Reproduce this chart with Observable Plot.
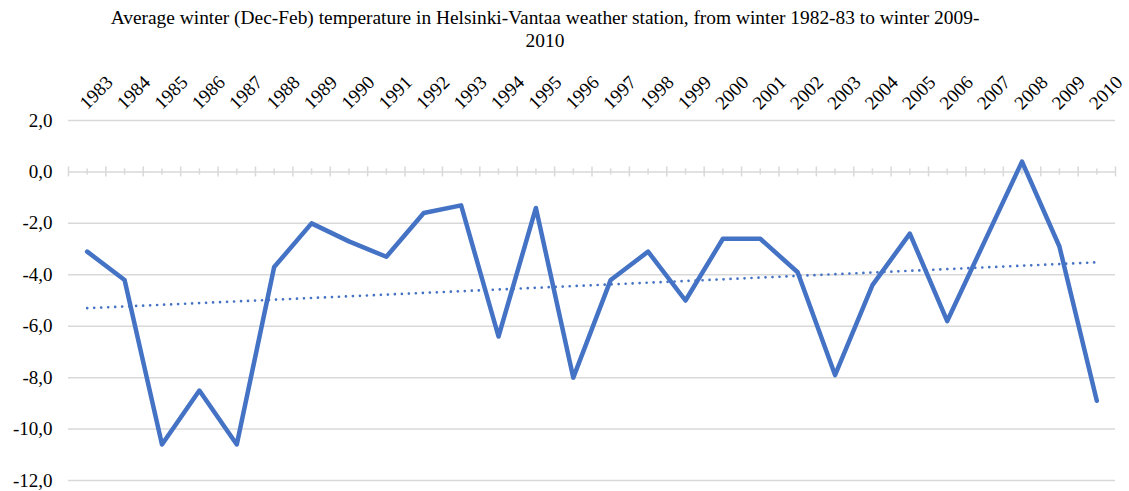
<!DOCTYPE html>
<html>
<head>
<meta charset="utf-8">
<script src="https://cdn.jsdelivr.net/npm/d3@7"></script>
<script src="https://cdn.jsdelivr.net/npm/@observablehq/plot@0.6"></script>
<style>
  html, body { margin: 0; padding: 0; background: #fff; }
  #title {
    width: 1090px;
    text-align: center;
    font-family: "Liberation Serif", "Times New Roman", serif;
    font-size: 19.4px;
    line-height: 23px;
    color: #000;
    padding-top: 6px;
    height: 49px;
  }
  #chart svg { display: block; }
</style>
</head>
<body>
<div id="title">Average winter (Dec-Feb) temperature in Helsinki-Vantaa weather station, from winter 1982-83 to winter 2009-<br>2010</div>
<div id="chart"></div>
<script>
const years = [1983, 1984, 1985, 1986, 1987, 1988, 1989, 1990, 1991, 1992, 1993, 1994, 1995, 1996,
               1997, 1998, 1999, 2000, 2001, 2002, 2003, 2004, 2005, 2006, 2007, 2008, 2009, 2010];
const temps = [-3.1, -4.2, -10.6, -8.5, -10.6, -3.7, -2.0, -2.7, -3.3, -1.6, -1.3, -6.4, -1.4, -8.0,
               -4.2, -3.1, -5.0, -2.6, -2.6, -3.9, -7.9, -4.4, -2.4, -5.8, -2.7, 0.4, -2.9, -8.9];
const yTicks = [2, 0, -2, -4, -6, -8, -10, -12];

const data = years.map((year, i) => ({year, temp: temps[i]}));
const boundaries = [...years.map(y => y - 0.5), years[years.length - 1] + 0.5];

const font = "Liberation Serif, Times New Roman, serif";
const blue = "#4472C4";
const grid = "#d9d9d9";

const chart = Plot.plot({
  width: 1129,
  height: 436,
  marginLeft: 68,
  marginRight: 14,
  marginTop: 65,
  marginBottom: 11,
  style: "font-family: 'Liberation Serif', serif; font-size: 17px; color: #000; background: #fff;",
  x: {type: "linear", domain: [1982.5, 2010.5], axis: null},
  y: {domain: [-12, 2], axis: null},
  marks: [
    Plot.ruleY(yTicks, {stroke: grid, strokeWidth: 1.5}),
    Plot.ruleX(boundaries, {y1: 0, y2: 0, insetTop: -5, insetBottom: -5, stroke: grid, strokeWidth: 1.5}),
    Plot.ruleX(years, {y1: 0, y2: 0, insetTop: -3, insetBottom: -3, stroke: grid, strokeWidth: 1.5}),
    Plot.text(yTicks, {
      y: d => d,
      text: d => d.toFixed(1).replace(".", ","),
      frameAnchor: "left",
      textAnchor: "end",
      dx: -16,
      fontSize: 19,
      fontFamily: font,
      fill: "#000"
    }),
    Plot.text(years, {
      x: d => d,
      text: d => String(d),
      frameAnchor: "top",
      rotate: -45,
      textAnchor: "start",
      lineAnchor: "bottom",
      dx: 0,
      dy: -10,
      fontSize: 19,
      fontFamily: font,
      fill: "#000"
    }),
    Plot.line(data, {x: "year", y: "temp", stroke: blue, strokeWidth: 4.5, strokeLinejoin: "round", strokeLinecap: "round"}),
    Plot.linearRegressionY(data, {x: "year", y: "temp", ci: 0, stroke: blue, strokeWidth: 2.7, strokeDasharray: "0,7", strokeLinecap: "round"})
  ]
});
document.getElementById("chart").appendChild(chart);
</script>
</body>
</html>
